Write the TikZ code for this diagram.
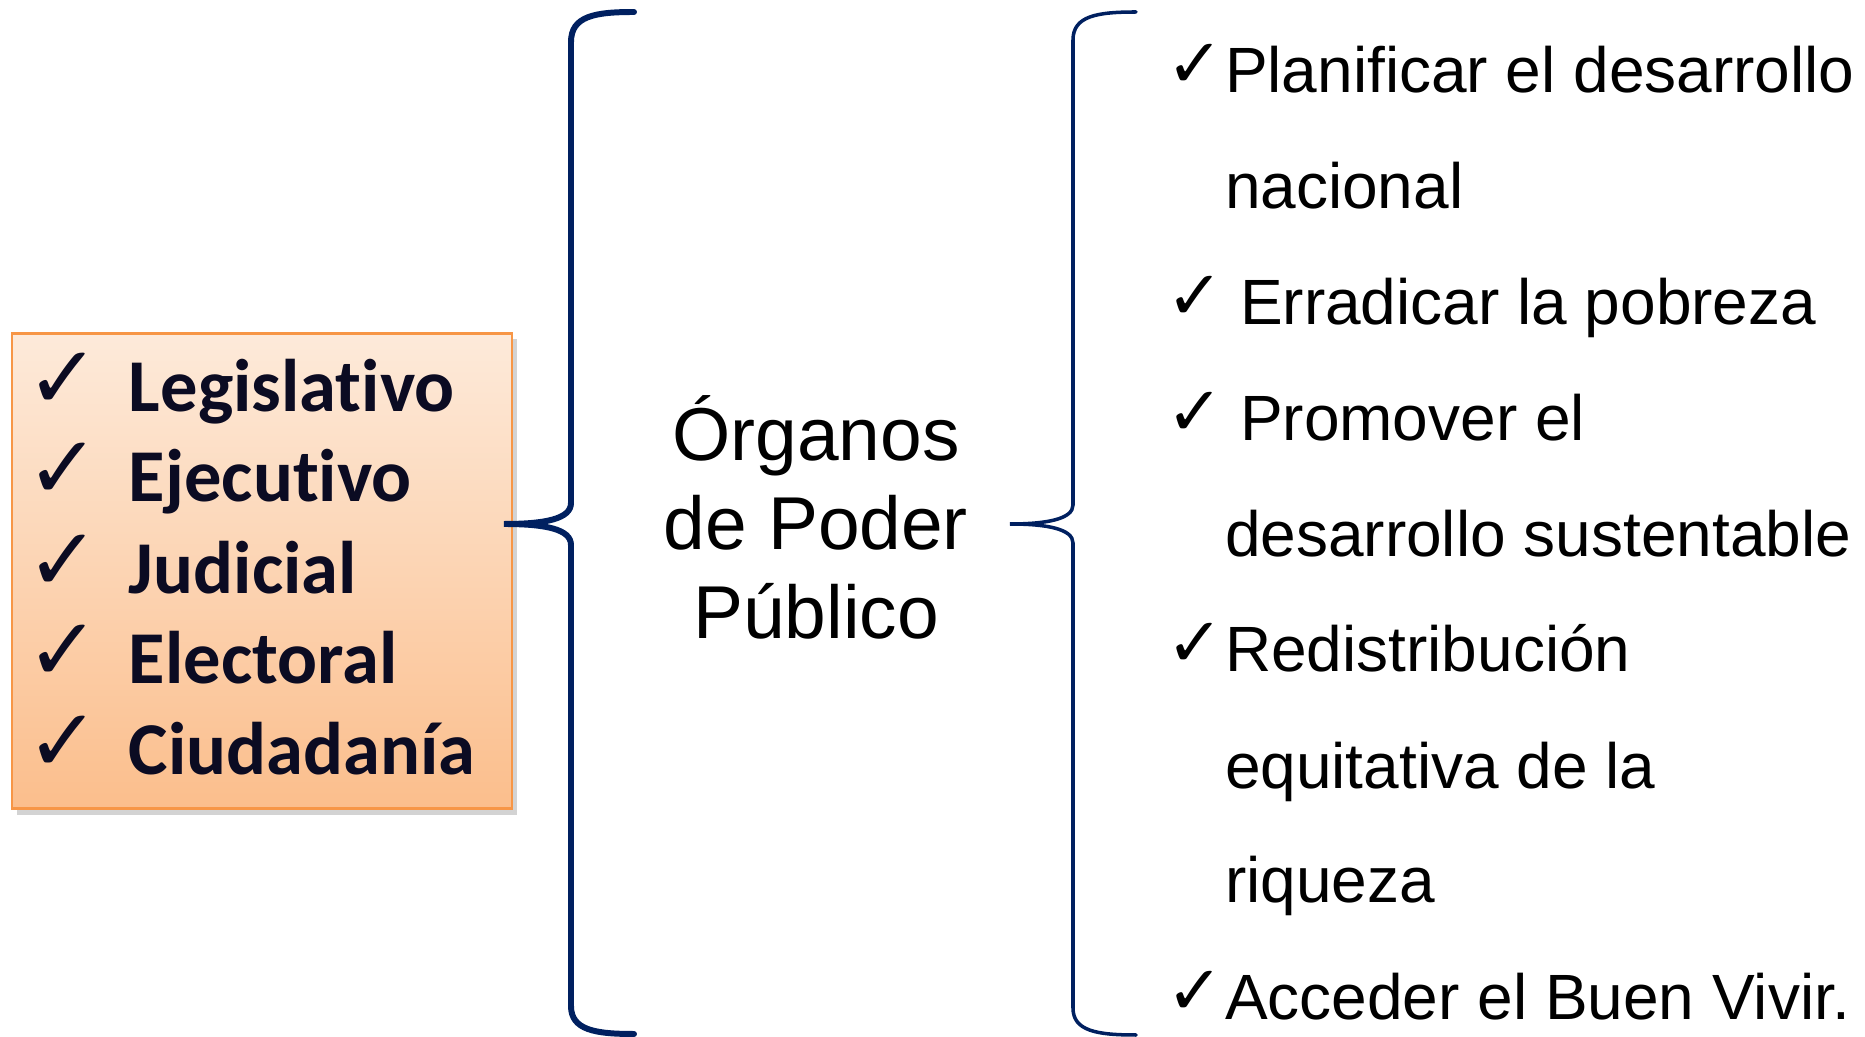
\documentclass[tikz,border=0pt]{standalone}
\usepackage{fontspec}
\setmainfont{Liberation Sans}
\newfontfamily\calibri[Ligatures=NoCommon]{Carlito}
\newfontfamily\simbolo{DejaVu Sans}
\usetikzlibrary{shadows,positioning}
\definecolor{azul}{HTML}{002060}
\definecolor{naranja}{HTML}{F79646}
\definecolor{claro}{HTML}{FDEADA}
\definecolor{oscuro}{HTML}{FBBE8C}
\definecolor{tinta}{HTML}{0B0B22}
\tikzset{x=0.01cm, y=-0.01cm,
    every node/.style={inner sep=0pt, outer sep=0pt},
    poder/.style={font=\calibri\bfseries\fontsize{21.2}{25}\selectfont, text=tinta, anchor=base west},
    fin/.style={font=\fontsize{18.2}{22}\selectfont, anchor=base west},
    organo/.style={font=\fontsize{21.3}{25}\selectfont, anchor=base},
    marca/.style={font=\simbolo\fontsize{19.5}{22}\selectfont},
    marcagruesa/.style={font=\simbolo\bfseries\fontsize{25}{28}\selectfont, text=tinta},
    llave/.style={draw=azul, line width=1.7pt, line cap=round},
    }

\begin{document}
\begin{tikzpicture}
\useasboundingbox (0,0) rectangle (1865,1037);
% caja de los poderes
\node[draw=naranja, line width=0.7pt, top color=claro, bottom color=oscuro,
      drop shadow={shadow xshift=0.05cm, shadow yshift=-0.06cm, opacity=0.35},
      minimum width=5cm, minimum height=4.75cm] (poderes) at (262,571) {};
\foreach \y/\t [count=\i] in {412/Legislativo, 502/Ejecutivo, 594/Judicial,
    684/Electoral, 775/Ciudadanía}{
  \node[poder] (poder-\i) at (129,\y) {\t};
  \node[marcagruesa] (marca-\i) at (63,\y-31) {✓};
}
% llave izquierda
\coordinate (punta-izq) at (504,524);
\draw[llave] (634,12) .. controls (595,12) and (571,16) .. (571,42) -- (571,503)
    .. controls (571,519) and (545,524) .. (punta-izq)
    .. controls (545,524) and (571,529) .. (571,545) -- (571,1006)
    .. controls (571,1030) and (595,1034) .. (634,1034);
% organos
\node[organo] (org-1) at (816,461) {Órganos};
\node[organo] (org-2) at (816,550) {de Poder};
\node[organo] (org-3) at (816,639) {Público};
% llave derecha
\coordinate (punta-der) at (1010,524);
\draw[llave, line width=1pt] (1136,12) .. controls (1097,12) and (1073,16) .. (1073,40) -- (1073,505)
    .. controls (1073,519) and (1047,524) .. (punta-der)
    .. controls (1047,524) and (1073,529) .. (1073,543) -- (1073,1008)
    .. controls (1073,1031) and (1097,1035) .. (1136,1035);
% fines
\foreach \x/\y/\t [count=\i] in {1225/93/Planificar el desarrollo, 1225/209/nacional,
    1240/325/Erradicar la pobreza, 1240/441/Promover el,
    1225/557/desarrollo sustentable, 1225/672/Redistribución,
    1225/789/equitativa de la, 1225/903/riqueza, 1225/1020/Acceder el Buen Vivir.}{
  \node[fin] (fin-\i) at (\x,\y) {\t};
}
\foreach \y [count=\i] in {93,325,441,672,1020}{
  \node[marca] (visto-\i) at (1195,\y-27) {✓};
}
\end{tikzpicture}
\end{document}
